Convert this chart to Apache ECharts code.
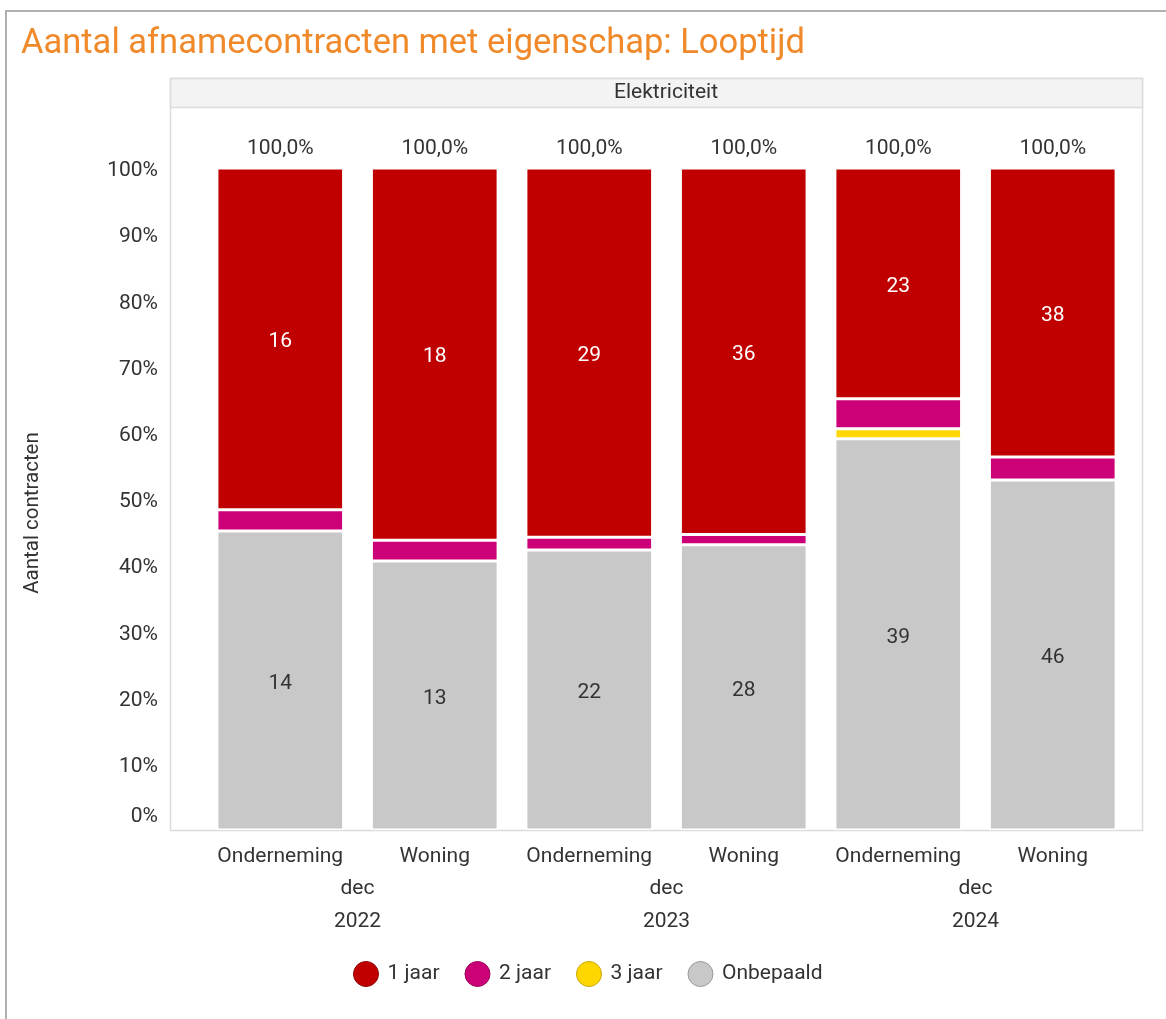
<!DOCTYPE html>
<html>
<head>
<meta charset="utf-8">
<script src="https://cdn.jsdelivr.net/npm/echarts@6/dist/echarts.min.js"></script>
<style>
  html, body { margin: 0; padding: 0; background: #fff; }
  #chart { width: 1166px; height: 1019px; }
</style>
</head>
<body>
<div id="chart"></div>
<script>
// categorieën en waarden (aantallen contracten)
const categories = ['Onderneming', 'Woning', 'Onderneming', 'Woning', 'Onderneming', 'Woning'];
const periods = ['dec\n2022', 'dec\n2023', 'dec\n2024'];
const jaar1 = [16, 18, 29, 36, 23, 38];
const jaar2 = [1, 1, 1, 1, 3, 3];
const jaar3 = [0, 0, 0, 0, 1, 0];
const onbepaald = [14, 13, 22, 28, 39, 46];
const yTicks = [0, 10, 20, 30, 40, 50, 60, 70, 80, 90, 100];

const totals = categories.map((_, i) => jaar1[i] + jaar2[i] + jaar3[i] + onbepaald[i]);
const pct = (arr) => arr.map((v, i) => ({ value: v / totals[i] * 100, count: v }));

const chart = echarts.init(document.getElementById('chart'));
const font = 'Roboto, "Noto Sans", sans-serif';
const fs = 21;

function barSeries(name, arr, color, labelColor) {
  return {
    name: name,
    type: 'bar',
    stack: 'tot',
    xAxisIndex: 0,
    barWidth: '82%',
    data: pct(arr),
    itemStyle: { color: color, borderColor: '#fff', borderWidth: 1.5 },
    label: {
      show: !!labelColor,
      color: labelColor,
      fontFamily: font,
      fontSize: fs,
      offset: [0, 3],
      formatter: (p) => p.data.count
    },
    emphasis: { disabled: true }
  };
}

chart.setOption({
  animation: false,
  textStyle: { fontFamily: font },
  title: {
    text: 'Aantal afnamecontracten met eigenschap: Looptijd',
    left: 16, top: 22,
    textStyle: { color: '#f0892a', fontSize: 34.5, fontWeight: 'normal', fontFamily: font }
  },
  graphic: [
    { type: 'rect', shape: { x: 6, y: 11, width: 1300, height: 1200 }, style: { fill: 'none', stroke: '#b0b0b0', lineWidth: 2 }, silent: true },
    { type: 'rect', shape: { x: 170.5, y: 78.5, width: 972, height: 752 }, style: { fill: 'none', stroke: '#dcdcdc', lineWidth: 1.5 }, silent: true, z: 0 },
    { type: 'rect', shape: { x: 170.5, y: 78.5, width: 972, height: 29 }, style: { fill: '#f3f3f3', stroke: '#dcdcdc', lineWidth: 1.5 }, silent: true },
    { type: 'text', x: 666, y: 93, style: { text: 'Elektriciteit', align: 'center', verticalAlign: 'middle', fontSize: 21, fontFamily: font, fill: '#333' }, silent: true },
    { type: 'text', x: 33, y: 513, rotation: Math.PI / 2, style: { text: 'Aantal contracten', align: 'center', verticalAlign: 'middle', fontSize: 20.5, fontFamily: font, fill: '#333' }, silent: true }
  ],
  legend: {
    bottom: 27,
    left: 348,
    icon: 'circle',
    itemWidth: 25,
    itemHeight: 25,
    itemGap: 25,
    textStyle: { fontSize: fs, color: '#333', fontFamily: font, padding: [0, 0, 0, 4] },
    data: [
      { name: '1 jaar', itemStyle: { borderColor: '#8f0000', borderWidth: 1 } },
      { name: '2 jaar', itemStyle: { borderColor: '#990059', borderWidth: 1 } },
      { name: '3 jaar', itemStyle: { borderColor: '#c9a600', borderWidth: 1 } },
      { name: 'Onbepaald', itemStyle: { borderColor: '#999', borderWidth: 1 } }
    ]
  },
  grid: { left: 203, right: 36, top: 107, bottom: 189 },
  xAxis: [
    {
      type: 'category',
      data: categories,
      axisLine: { show: false },
      axisTick: { show: false },
      axisLabel: { interval: 0, margin: 16, fontSize: fs, color: '#333', fontFamily: font }
    },
    {
      type: 'category',
      data: periods,
      position: 'bottom',
      axisLine: { show: false },
      axisTick: { show: false },
      axisLabel: { interval: 0, margin: 42, fontSize: fs, lineHeight: 33, color: '#333', fontFamily: font }
    }
  ],
  yAxis: {
    type: 'value',
    min: 0,
    max: 109.2,
    interval: 10,
    splitLine: { show: false },
    axisLine: { show: false },
    axisTick: { show: false },
    axisLabel: {
      margin: 45,
      fontSize: fs,
      color: '#333',
      fontFamily: font,
      formatter: (v) => yTicks.indexOf(Math.round(v)) >= 0 && v <= 100 ? (v === 0 ? '{z|0%}' : '{a|' + v + '%}') : '',
      rich: {
        a: { fontSize: fs, color: '#333', fontFamily: font, padding: [6, 0, 0, 0] },
        z: { fontSize: fs, color: '#333', fontFamily: font, padding: [0, 0, 26, 0] }
      }
    }
  },
  series: [
    barSeries('Onbepaald', onbepaald, '#c8c8c8', '#333'),
    barSeries('3 jaar', jaar3, '#ffd700', null),
    barSeries('2 jaar', jaar2, '#cc0077', null),
    barSeries('1 jaar', jaar1, '#c00000', '#fff'),
    {
      name: 'totaal',
      type: 'bar',
      stack: 'tot',
      barWidth: '82%',
      data: totals.map(() => 0),
      itemStyle: { color: 'transparent' },
      label: {
        show: true,
        position: 'top',
        distance: 9,
        color: '#333',
        fontSize: fs,
        fontFamily: font,
        formatter: (p) => {
          const s = [jaar1, jaar2, jaar3, onbepaald].reduce((a, arr) => a + arr[p.dataIndex], 0) / totals[p.dataIndex] * 100;
          return s.toFixed(1).replace('.', ',') + '%';
        }
      },
      emphasis: { disabled: true }
    }
  ]
});
</script>
</body>
</html>
